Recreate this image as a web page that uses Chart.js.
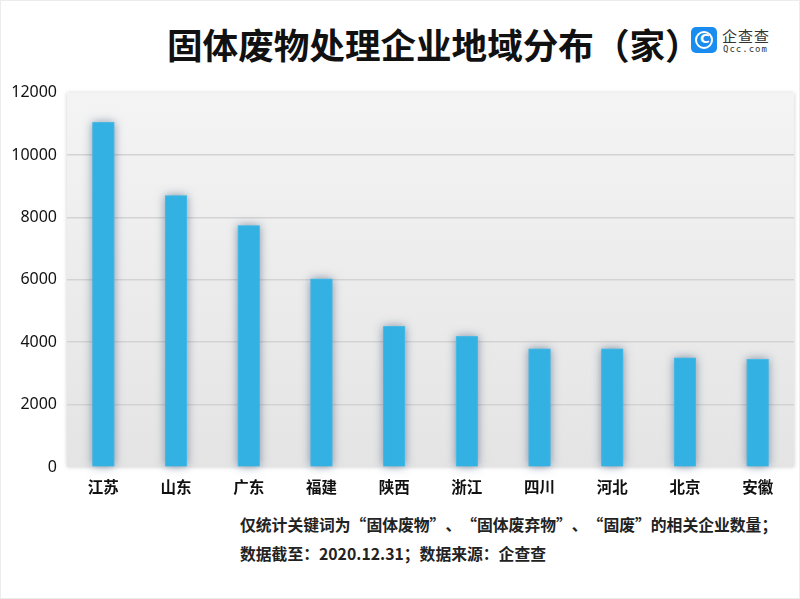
<!DOCTYPE html>
<html lang="zh">
<head>
<meta charset="utf-8">
<script src="https://cdn.jsdelivr.net/npm/chart.js@4"></script>
<style>
  body { margin: 0; background: #fff; }
  #wrap { position: relative; width: 798px; height: 597px; border: 1px solid #ececec; overflow: hidden; background: #fff; }
  #titulo { position: absolute; left: 166px; top: 17px; font: bold 35.6px "Noto Sans CJK SC", sans-serif; color: #111; white-space: nowrap; }
  #logo { position: absolute; left: 690px; top: 26px; width: 26px; height: 26px; background: #1a8cf0; border-radius: 5px; }
  #logo div { position: absolute; left: 4px; top: 4px; width: 14px; height: 14px; border: 2px solid #fff; border-radius: 50%; }
  #logo span { position: absolute; left: 9px; top: 4px; color: #fff; font: bold 13px "DejaVu Sans", sans-serif; }
  #marca { position: absolute; left: 721px; top: 24px; font: 15px "Noto Sans CJK SC", sans-serif; color: #333; letter-spacing: 1px; }
  #site { position: absolute; left: 722px; top: 43px; font: 9px "DejaVu Sans Mono", monospace; color: #333; letter-spacing: 1px; }
  #grafico { position: absolute; left: 0; top: 72px; width: 800px; height: 428px; }
  .nota { position: absolute; left: 239px; font: bold 15.8px "Noto Sans CJK SC", sans-serif; color: #222; white-space: nowrap; }
  .aq, .fq { display: inline-block; width: 1em; }
  .aq { text-align: right; }
  .fq { text-align: left; }
</style>
</head>
<body>
<div id="wrap">
  <div id="titulo">固体废物处理企业地域分布（家）</div>
  <div id="logo"><div></div><span>C</span></div>
  <div id="marca">企查查</div>
  <div id="site">Qcc.com</div>
  <div id="grafico"><canvas id="graficoResultados"></canvas></div>
  <div class="nota" style="top:512px">仅统计关键词为<span class="aq">“</span>固体废物<span class="fq">”</span>、<span class="aq">“</span>固体废弃物<span class="fq">”</span>、<span class="aq">“</span>固废<span class="fq">”</span>的相关企业数量；</div>
  <div class="nota" style="top:541px">数据截至：2020.12.31；数据来源：企查查</div>
</div>
<script>
const provincias = ['江苏', '山东', '广东', '福建', '陕西', '浙江', '四川', '河北', '北京', '安徽'];
const empresas = [11050, 8700, 7740, 6030, 4510, 4190, 3790, 3790, 3500, 3460];
const marcasY = [0, 2000, 4000, 6000, 8000, 10000, 12000];

// fundo cinza com degradê atrás da área do gráfico + sombra das barras
const fundoPlugin = {
    id: 'fundo',
    beforeDraw(chart) {
        const { ctx, chartArea: a } = chart;
        ctx.save();
        ctx.shadowColor = 'rgba(0,0,0,0.2)';
        ctx.shadowBlur = 4;
        const grad = ctx.createLinearGradient(0, a.top, 0, a.bottom);
        grad.addColorStop(0, '#f4f4f4');
        grad.addColorStop(1, '#e4e4e4');
        ctx.fillStyle = grad;
        ctx.fillRect(a.left, a.top, a.right - a.left, a.bottom - a.top);
        ctx.restore();
    },
    beforeDatasetsDraw(chart) {
        const ctx = chart.ctx;
        const barras = chart.getDatasetMeta(0).data;
        ctx.save();
        ctx.shadowColor = 'rgba(40,70,110,0.55)';
        ctx.shadowBlur = 10;
        ctx.fillStyle = '#33b1e3';
        barras.forEach(b => {
            const p = b.getProps(['x', 'y', 'base', 'width'], true);
            ctx.fillRect(p.x - p.width / 2, p.y, p.width, p.base - p.y);
        });
        ctx.restore();
    }
};

function criarGrafico() {
    const ctx = document.getElementById('graficoResultados').getContext('2d');
    new Chart(ctx, {
        type: 'bar',
        data: {
            labels: provincias,
            datasets: [{
                data: empresas,
                backgroundColor: '#33b1e3',
                borderColor: '#45bbe8',
                borderWidth: 1,
                barPercentage: 0.6,
                categoryPercentage: 0.5
            }]
        },
        options: {
            responsive: true,
            maintainAspectRatio: false,
            animation: false,
            layout: { padding: { top: 4, right: 7, bottom: 0, left: 0 } },
            plugins: { legend: { display: false }, tooltip: { enabled: false } },
            scales: {
                x: {
                    grid: { display: false },
                    border: { display: false },
                    ticks: { color: '#111', padding: 3, font: { family: 'Noto Sans CJK SC', size: 15.5, weight: 'bold' } },
                    afterFit(scale) { scale.height = 34; }
                },
                y: {
                    min: 0,
                    max: 12000,
                    afterBuildTicks(scale) { scale.ticks = marcasY.map(v => ({ value: v })); },
                    grid: {
                        color: ctx => (ctx.tick && (ctx.tick.value === 0 || ctx.tick.value === 12000)) ? 'rgba(0,0,0,0)' : '#d3d3d3',
                        lineWidth: 1.5,
                        drawTicks: false
                    },
                    border: { display: false },
                    ticks: {
                        color: '#111',
                        padding: 10,
                        font: { family: 'Noto Sans', size: 16 },
                        callback: v => String(v)
                    },
                    afterFit(scale) { scale.width = 66; }
                }
            }
        },
        plugins: [fundoPlugin]
    });
}

window.onload = criarGrafico;
</script>
</body>
</html>
